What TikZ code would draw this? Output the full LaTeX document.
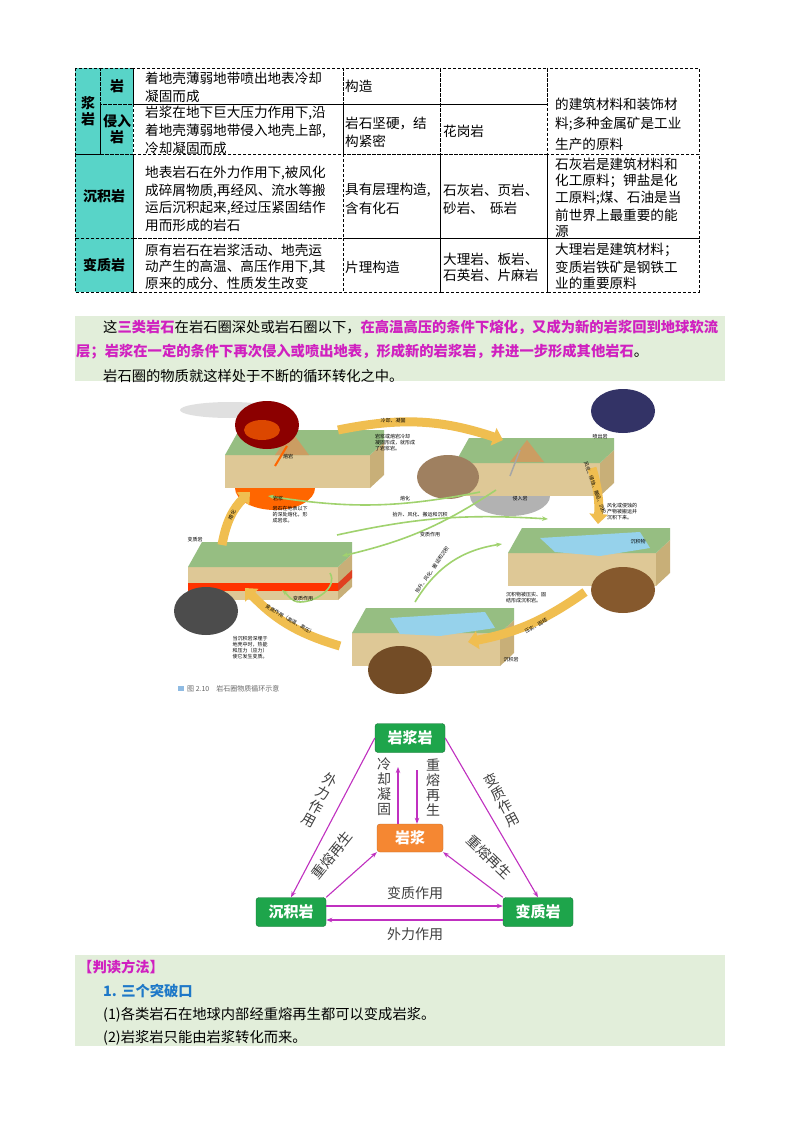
\documentclass[tikz,border=0pt]{standalone}
\usepackage{fontspec}
\setmainfont{Noto Sans CJK SC}
\usetikzlibrary{arrows.meta}
\definecolor{teal1}{RGB}{88,212,200}
\definecolor{boxg}{RGB}{226,238,218}
\definecolor{mag}{RGB}{208,32,192}
\definecolor{rgreen}{RGB}{30,165,75}
\definecolor{rorange}{RGB}{245,135,50}
\definecolor{arrm}{RGB}{192,48,192}
\definecolor{tan1}{RGB}{222,200,150}
\definecolor{tan2}{RGB}{200,175,120}
\definecolor{land}{RGB}{150,190,130}
\definecolor{yel}{RGB}{240,190,80}
\definecolor{lgr}{RGB}{160,210,110}
\definecolor{water}{RGB}{150,210,235}
\definecolor{blue1}{RGB}{30,120,200}
\tikzset{
  cell/.style={draw,densely dashed,line width=0.9pt},
  tt/.style={anchor=west,inner sep=0pt,font=\fontsize{13.6}{14}\selectfont},
  hd/.style={inner sep=0pt,font=\fontsize{14}{16}\selectfont\bfseries,align=center},
  pt/.style={anchor=west,inner sep=0pt,font=\fontsize{14.3}{14}\selectfont},
  rock/.style={fill=rgreen,draw=rgreen!70!black,rounded corners=3pt,text=white,font=\fontsize{15}{15}\selectfont\bfseries,minimum width=70pt,minimum height=29pt},
  arr/.style={draw=arrm,line width=1.1pt,-{Stealth[length=6pt]}},
  lab/.style={inner sep=0pt,font=\fontsize{14}{14}\selectfont,text=black!75},
  vlab/.style={inner sep=0pt,font=\fontsize{14}{15}\selectfont,text=black!75,align=center},
  yarr/.style={draw=yel,line width=9pt,-{Triangle[length=10pt,width=18pt]}},
  garr/.style={draw=lgr,line width=1.6pt,-{Stealth[length=6pt]}},
  sm/.style={inner sep=0pt,font=\fontsize{5}{6}\selectfont,align=left},
}
\begin{document}
\begin{tikzpicture}[x=1pt,y=-1pt]
\useasboundingbox (0,0) rectangle (800,1134);
\fill[white] (0,0) rectangle (800,1134);
% ---------- table ----------
\fill[teal1] (75,68) rectangle (133,292);
\foreach \a/\b/\c/\d in {75/68/100/154,100/68/133/104,100/104/133/154,75/154/133/238,75/238/133/292,
 133/68/343/104,343/68/440/104,440/68/547/104,133/104/343/154,343/104/440/154,440/104/547/154,547/68/699/154,
 133/154/343/238,343/154/440/238,440/154/547/238,547/154/699/238,
 133/238/343/292,343/238/440/292,440/238/547/292,547/238/699/292}
 {\draw[cell] (\a,\b) rectangle (\c,\d);}
\node[hd] (h1) at (88,111) {浆\\岩};
\node[hd] (h2) at (117,86) {岩};
\node[hd] (h3) at (117,129) {侵入\\岩};
\node[hd] (h4) at (104,196) {沉积岩};
\node[hd] (h5) at (104,265) {变质岩};
\node[tt] (a1) at (145,78) {着地壳薄弱地带喷出地表冷却};
\node[tt] (a2) at (145,96) {凝固而成};
\node[tt] (a3) at (145,113) {岩浆在地下巨大压力作用下,沿};
\node[tt] (a4) at (145,131) {着地壳薄弱地带侵入地壳上部,};
\node[tt] (a5) at (145,148) {冷却凝固而成};
\node[tt] (a6) at (145,173) {地表岩石在外力作用下,被风化};
\node[tt] (a7) at (145,191) {成碎屑物质,再经风、流水等搬};
\node[tt] (a8) at (145,208) {运后沉积起来,经过压紧固结作};
\node[tt] (a9) at (145,225) {用而形成的岩石};
\node[tt] (a10) at (145,250) {原有岩石在岩浆活动、地壳运};
\node[tt] (a11) at (145,267) {动产生的高温、高压作用下,其};
\node[tt] (a12) at (145,283) {原来的成分、性质发生改变};
\node[tt] (b1) at (345,86) {构造};
\node[tt] (b2) at (345,124) {岩石坚硬，结};
\node[tt] (b3) at (345,141) {构紧密};
\node[tt] (b4) at (345,190) {具有层理构造,};
\node[tt] (b5) at (345,208) {含有化石};
\node[tt] (b6) at (345,267) {片理构造};
\node[tt] (c1) at (443,131) {花岗岩};
\node[tt] (c2) at (443,190) {石灰岩、页岩、};
\node[tt] (c3) at (443,208) {砂岩、\ \ 砾岩};
\node[tt] (c4) at (443,259) {大理岩、板岩、};
\node[tt] (c5) at (443,275) {石英岩、片麻岩};
\node[tt] (d1) at (555,104) {的建筑材料和装饰材};
\node[tt] (d2) at (555,124) {料;多种金属矿是工业};
\node[tt] (d3) at (555,144) {生产的原料};
\node[tt] (d4) at (555,164) {石灰岩是建筑材料和};
\node[tt] (d5) at (555,181) {化工原料；钾盐是化};
\node[tt] (d6) at (555,198) {工原料;煤、石油是当};
\node[tt] (d7) at (555,215) {前世界上最重要的能};
\node[tt] (d8) at (555,231) {源};
\node[tt] (d9) at (555,250) {大理岩是建筑材料；};
\node[tt] (d10) at (555,267) {变质岩铁矿是钢铁工};
\node[tt] (d11) at (555,283) {业的重要原料};
% ---------- green paragraph ----------
\fill[boxg] (75,316) rectangle (725,381);
\node[pt] (p1) at (103,327) {这\textcolor{mag}{\bfseries 三类岩石}在岩石圈深处或岩石圈以下，\textcolor{mag}{\bfseries 在高温高压的条件下熔化，又成为新的岩浆回到地球软流}};
\node[pt] (p2) at (76,352) {\textcolor{mag}{\bfseries 层；岩浆在一定的条件下再次侵入或喷出地表，形成新的岩浆岩，并进一步形成其他岩石}。};
\node[pt] (p3) at (103,376) {岩石圈的物质就这样处于不断的循环转化之中。};
% ---------- textbook figure ----------
\foreach \x/\y/\w in {225/430/145,455/438/145,508/528/148,352/608/148,188/542/150}{
  \fill[tan1] (\x,\y+25) -- (\x+\w,\y+25) -- (\x+\w,\y+58) -- (\x,\y+58) -- cycle;
  \fill[tan2] (\x+\w,\y+25) -- (\x+\w+14,\y+12) -- (\x+\w+14,\y+45) -- (\x+\w,\y+58) -- cycle;
  \fill[land] (\x,\y+25) -- (\x+14,\y) -- (\x+\w+14,\y) -- (\x+\w+14,\y+12) -- (\x+\w,\y+25) -- cycle;
}
\fill[brown!60!tan1] (275,455) -- (292,432) -- (309,455) -- cycle;
\fill[brown!60!tan1] (510,462) -- (527,440) -- (544,462) -- cycle;
\fill[gray!30,opacity=0.8] (230,410) ellipse (50 and 8);
\fill[orange!80!red] (235,488) arc (180:0:40 and 22) -- cycle;
\draw[orange!80!red,line width=2pt] (275,466) -- (287,446);
\fill[gray!60] (470,496) arc (180:0:40 and 20) -- cycle;
\draw[gray!70,line width=1.5pt] (510,476) -- (520,450);
\fill[water] (540,538) -- (640,532) -- (650,548) -- (600,556) -- (555,552) -- cycle;
\fill[water] (390,618) -- (485,612) -- (495,628) -- (440,636) -- (400,634) -- cycle;
\fill[red!60!orange] (188,583) rectangle (338,591);
\fill[red!50!brown] (338,591) -- (352,578) -- (352,570) -- (338,583) -- cycle;
\fill[red!55!black] (267,425) ellipse (32 and 24);
\fill[orange!80!red,opacity=0.7] (262,430) ellipse (18 and 10);
\fill[blue!25!black!80] (623,411) ellipse (32 and 22);
\fill[brown!50!gray] (448,477) ellipse (31 and 22);
\fill[brown!70!black] (623,590) ellipse (32 and 23);
\fill[brown!60!black] (400,670) ellipse (32 and 24);
\fill[gray!60!black] (206,611) ellipse (32 and 24);
\draw[yarr] (338,430) to[bend left=15] (503,440);
\draw[yarr] (592,468) to[bend left=10] (598,524);
\draw[yarr] (585,592) to[bend left=12] (468,642);
\draw[yarr] (340,646) to[bend left=15] (245,588);
\draw[yarr] (222,545) to[bend left=18] (250,492);
\draw[garr] (480,492) to[bend left=10] (268,496);
\draw[garr] (337,535) to[bend left=8] (548,519);
\draw[garr] (496,490) to[bend left=10] (342,556);
\draw[garr] (415,602) to[bend left=25] (502,544);
\draw[garr] (330,573) to[out=-60,in=0] (300,602) to[out=180,in=-40] (282,590);
\node[sm] (s1) at (393,421) {冷却、凝固};
\node[sm] (s2) at (395,443) {岩浆或熔岩冷却\\凝固形成，就形成\\了岩浆岩。};
\node[sm] (s3) at (288,457) {熔岩};
\node[sm] (s4) at (600,437) {喷出岩};
\node[sm] (s5) at (278,499) {岩浆};
\node[sm] (s6) at (405,499) {熔化};
\node[sm] (s7) at (520,499) {侵入岩};
\node[sm] (s8) at (290,515) {岩石在地表以下\\的深处熔化，形\\成岩浆。};
\node[sm] (s9) at (420,515) {抬升、风化、搬运和沉积};
\node[sm] (s10) at (430,535) {变质作用};
\node[sm] (s11) at (195,540) {变质岩};
\node[sm] (s12) at (303,599) {变质作用};
\node[sm] (s13) at (622,512) {风化或侵蚀的\\产物被搬运并\\沉积下来。};
\node[sm] (s14) at (638,542) {沉积物};
\node[sm] (s15) at (526,598) {沉积物被压实、固\\结形成沉积岩。};
\node[sm] (s16) at (511,660) {沉积岩};
\node[sm] (s17) at (250,648) {当沉积岩深埋于\\地壳中时，热能\\和压力（应力）\\使它发生变质。};
\node[sm,rotate=-70] (s18) at (595,488) {风化、侵蚀、搬运、沉积};
\node[sm,rotate=30] (s19) at (536,626) {压实、固结};
\node[sm,rotate=-30] (s20) at (290,620) {变质作用（高温、高压）};
\node[sm,rotate=60] (s21) at (232,515) {熔化};
\node[sm,rotate=55] (s22) at (432,570) {抬升、风化、搬运和沉积};
\fill[blue1!50] (178,686) rectangle (184,691);
\node[sm,anchor=west,font=\fontsize{7}{7}\selectfont,text=black!60] (cap) at (187,689) {图 2.10\quad 岩石圈物质循环示意};
% ---------- triangle diagram ----------
\node[rock] (ig) at (410,738) {岩浆岩};
\node[rock,fill=rorange,draw=rorange!80!black,minimum width=66pt,minimum height=28pt] (mg) at (410,838) {岩浆};
\node[rock] (sd) at (291,912) {沉积岩};
\node[rock] (mt) at (538,912) {变质岩};
\draw[arr] (ig.west) -- (sd.north);
\draw[arr] (ig.east) -- (mt.north);
\draw[arr] (sd.north east) -- (mg.south west);
\draw[arr] (mt.north west) -- (mg.south east);
\draw[arr] ([xshift=-12pt]mg.north) -- ([xshift=-12pt]ig.south |- 0,767);
\draw[arr] ([xshift=7pt]ig.south |- 0,770) -- ([xshift=7pt]mg.north);
\draw[arr] ([yshift=6pt]sd.east) -- ([yshift=6pt]mt.west);
\draw[arr] ([yshift=-8pt]mt.west) -- ([yshift=-8pt]sd.east);
\node[vlab] (l1) at (384,787) {冷\\却\\凝\\固};
\node[vlab] (l2) at (433,787) {重\\熔\\再\\生};
\node[vlab,rotate=-28] (l3) at (320,800) {外\\力\\作\\用};
\node[vlab,rotate=28] (l4) at (502,800) {变\\质\\作\\用};
\node[lab,rotate=51] (l5) at (332,855) {重熔再生};
\node[lab,rotate=-44] (l6) at (489,857) {重熔再生};
\node[lab] (l7) at (415,893) {变质作用};
\node[lab] (l8) at (415,934) {外力作用};
% ---------- bottom box ----------
\fill[boxg] (75,955) rectangle (725,1046);
\node[pt,text=mag] (q1) at (78,967) {\bfseries 【判读方法】};
\node[pt,text=blue1] (q2) at (103,991) {\bfseries 1. 三个突破口};
\node[pt] (q3) at (103,1015) {(1)各类岩石在地球内部经重熔再生都可以变成岩浆。};
\node[pt] (q4) at (103,1038) {(2)岩浆岩只能由岩浆转化而来。};
\end{tikzpicture}
\end{document}
